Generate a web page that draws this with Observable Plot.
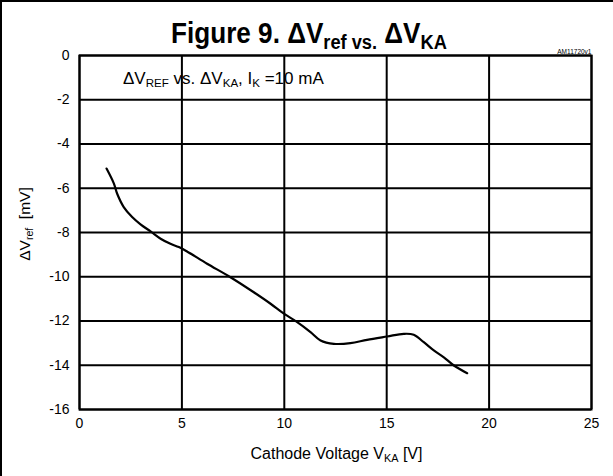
<!DOCTYPE html>
<html><head><meta charset="utf-8">
<script src="https://cdn.jsdelivr.net/npm/d3@7"></script>
<script src="https://cdn.jsdelivr.net/npm/@observablehq/plot@0.6"></script>
<style>
body{margin:0;background:#fff;font-family:"Liberation Sans",Arial,Helvetica,sans-serif;color:#000;}
#wrap{position:relative;width:613px;height:476px;overflow:hidden;background:#fff;}
#border{position:absolute;left:0;top:0;width:613px;height:476px;box-sizing:border-box;border-left:2px solid #000;border-top:2px solid #000;pointer-events:none;}
#title{height:45px;position:relative;white-space:nowrap;}
#title span.t{position:absolute;left:309px;top:42px;font-weight:bold;font-size:29px;line-height:1;transform:translate(-50%,-80%) scaleX(0.9);transform-origin:center;}
.sub{font-size:0.68em;position:relative;top:0.3em;}
#title .sub{font-size:0.7em;top:0.3em;}
.ov{position:absolute;white-space:nowrap;line-height:1;}
#note{left:123px;top:70px;font-size:17px;}
#xlab{left:0;width:613px;padding-left:60px;box-sizing:border-box;text-align:center;top:446px;font-size:16px;}
#ylab{left:25px;top:224px;font-size:15.5px;transform:translate(-50%,-50%) rotate(-90deg);}
svg{display:block;}
</style>
</head><body>
<div id="wrap">
  <div id="title"><span class="t">Figure 9. &Delta;V<span class="sub">ref vs.</span> &Delta;V<span class="sub">KA</span></span></div>
  <div id="chart"></div>
  <div id="note" class="ov">&Delta;V<span class="sub">REF</span> vs. &Delta;V<span class="sub">KA</span>, I<span class="sub">K</span> =10 mA</div>
  <div id="xlab" class="ov">Cathode Voltage V<span class="sub">KA</span> [V]</div>
  <div id="ylab" class="ov">&Delta;V<span class="sub">ref</span> &nbsp;[mV]</div>
  <div id="border"></div>
</div>
<script>
const xTicks = [0, 5, 10, 15, 20, 25];
const yTicks = [0, -2, -4, -6, -8, -10, -12, -14, -16];
const vka = [1.32, 1.68, 1.84, 2.16, 2.57, 2.98, 3.47, 3.96, 4.44, 4.85, 5.25, 6.23, 7.37, 8.51, 9.33, 9.98, 10.63, 11.28, 11.77, 12.42, 13.23, 14.04, 15.02, 15.83, 16.32, 16.81, 17.30, 17.79, 18.28, 18.93];
const dvref = [-5.11, -5.79, -6.25, -6.85, -7.30, -7.63, -7.95, -8.28, -8.51, -8.66, -8.86, -9.41, -10.02, -10.70, -11.22, -11.67, -12.05, -12.50, -12.88, -13.03, -13.00, -12.85, -12.70, -12.58, -12.62, -12.96, -13.33, -13.64, -14.01, -14.36];
const codeLabel = ["AM11720v1"];

const data = vka.map((x, i) => ({x, y: dvref[i]}));
const fmt = d => String(d);

const chart = Plot.plot({
  width: 613,
  height: 431,
  marginLeft: 79,
  marginRight: 22,
  marginTop: 10,
  marginBottom: 67,
  x: {domain: [0, 25]},
  y: {domain: [-16, 0]},
  style: {fontSize: "14px", fontFamily: "'Liberation Sans', Arial, sans-serif", color: "#000", background: "#fff"},
  marks: [
    Plot.gridX(xTicks, {stroke: "#000", strokeOpacity: 1, strokeWidth: 2}),
    Plot.gridY(yTicks, {stroke: "#000", strokeOpacity: 1, strokeWidth: 2}),
    Plot.frame({stroke: "#000", strokeWidth: 2}),
    Plot.line(data, {x: "x", y: "y", curve: "catmull-rom", stroke: "#000", strokeWidth: 2.2}),
    Plot.axisX(xTicks, {tickSize: 0, tickPadding: 9, label: null, fontSize: 14, tickFormat: fmt}),
    Plot.axisY(yTicks, {tickSize: 0, tickPadding: 10, label: null, fontSize: 14, tickFormat: fmt}),
    Plot.text(codeLabel, {frameAnchor: "top-right", dy: -6, fontSize: 6.5, textAnchor: "end"})
  ]
});
document.getElementById("chart").appendChild(chart);
</script>
</body></html>
